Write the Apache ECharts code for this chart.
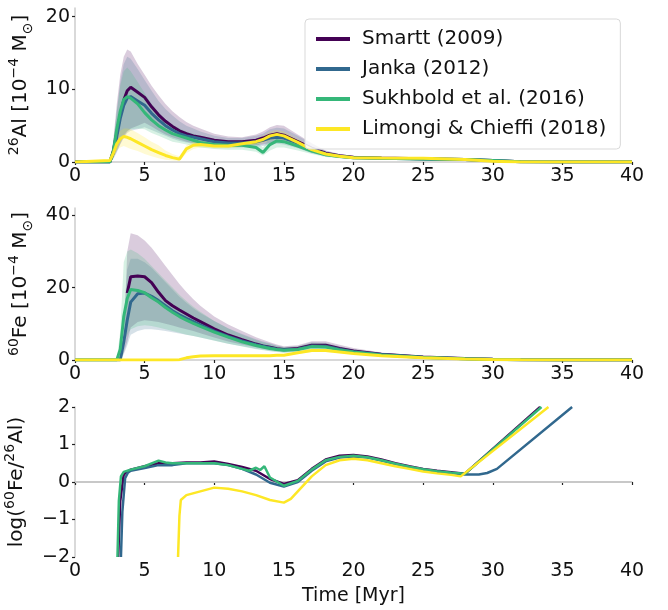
<!DOCTYPE html>
<html>
<head>
<meta charset="utf-8">
<script src="https://cdn.jsdelivr.net/npm/echarts@6/dist/echarts.min.js"></script>
<style>
  html, body { margin: 0; padding: 0; background: #fff; }
  #chart { width: 668px; height: 610px; }
</style>
</head>
<body>
<div id="chart"></div>
<script>
// time grid shared by the 26Al and 60Fe panels [Myr]
const T = [0, 2.5, 2.75, 3, 3.25, 3.5, 3.75, 4, 4.5, 5, 5.5, 6, 6.5, 7, 7.5, 8, 8.5, 9, 10, 11, 12, 13, 13.5, 14, 14.5, 15, 16, 17, 18, 19, 20, 22, 25, 28, 30, 32, 35, 40];

const names = ['Smartt (2009)', 'Janka (2012)', 'Sukhbold et al. (2016)', 'Limongi & Chieffi (2018)'];
const colors = ['#440154', '#31688e', '#35b779', '#fde725'];

// 26Al [1e-4 Msun]
const alSmartt = [0, 0, 1.5, 4, 6.5, 8.5, 9.8, 10.3, 9.6, 8.9, 7.6, 6.5, 5.6, 4.9, 4.3, 3.9, 3.6, 3.4, 3.0, 2.8, 2.8, 3.0, 3.3, 3.7, 3.9, 3.7, 2.8, 1.9, 1.2, 0.85, 0.65, 0.55, 0.45, 0.35, 0.2, 0.05, 0, 0];
const alJanka = [0, 0, 1.2, 3.5, 6, 7.8, 8.8, 9.0, 8.4, 7.8, 6.7, 5.8, 5.0, 4.4, 3.9, 3.6, 3.4, 3.2, 2.8, 2.6, 2.6, 2.8, 3.0, 3.3, 3.4, 3.3, 2.6, 1.8, 1.1, 0.8, 0.6, 0.5, 0.42, 0.33, 0.2, 0.05, 0, 0];
const alSukhbold = [0, 0, 1.5, 4.5, 7, 8.6, 9.0, 8.8, 8.0, 6.8, 5.8, 5.0, 4.4, 3.9, 3.6, 3.3, 3.0, 2.7, 2.4, 2.3, 2.3, 2.0, 1.3, 2.4, 2.9, 2.8, 2.2, 1.5, 1.0, 0.75, 0.6, 0.5, 0.42, 0.33, 0.2, 0.05, 0, 0];
const alLimongi = [0, 0.2, 1.2, 2.5, 3.2, 3.5, 3.4, 3.2, 2.7, 2.2, 1.7, 1.3, 0.9, 0.6, 0.4, 1.8, 2.3, 2.4, 2.2, 2.2, 2.5, 2.8, 3.1, 3.6, 3.8, 3.6, 2.7, 1.7, 1.1, 0.8, 0.6, 0.55, 0.5, 0.35, 0.1, 0, 0, 0];

const alSmarttLo = [0, 0, 0.5, 1.5, 2.5, 3.5, 4.2, 4.6, 5.0, 5.4, 4.9, 4.3, 3.8, 3.4, 3.1, 2.8, 2.6, 2.5, 2.2, 2.1, 2.1, 2.3, 2.4, 2.6, 2.8, 2.7, 2.0, 1.3, 0.8, 0.6, 0.45, 0.4, 0.32, 0.25, 0.1, 0, 0, 0];
const alSmarttHi = [0, 0, 3, 8, 12, 14.5, 15.5, 15.2, 13.5, 12.0, 10.5, 9.2, 8.0, 7.0, 6.2, 5.5, 5.0, 4.6, 3.9, 3.5, 3.4, 3.8, 4.2, 4.8, 5.1, 5.0, 3.8, 2.6, 1.6, 1.1, 0.85, 0.7, 0.6, 0.5, 0.3, 0.1, 0, 0];
const alJankaLo = [0, 0, 0.4, 1.3, 2.4, 3.3, 4.0, 4.3, 4.5, 4.8, 4.4, 4.0, 3.6, 3.2, 2.9, 2.7, 2.5, 2.4, 2.1, 2.0, 2.0, 2.1, 2.2, 2.4, 2.5, 2.4, 1.9, 1.2, 0.8, 0.55, 0.45, 0.38, 0.3, 0.24, 0.1, 0, 0, 0];
const alJankaHi = [0, 0, 2.5, 7, 11, 13.5, 14.5, 14.2, 12.8, 11.3, 9.8, 8.4, 7.3, 6.4, 5.6, 5.0, 4.6, 4.2, 3.6, 3.3, 3.3, 3.6, 3.9, 4.5, 4.7, 4.6, 3.6, 2.5, 1.5, 1.05, 0.8, 0.65, 0.55, 0.45, 0.3, 0.1, 0, 0];
const alSukhboldLo = [0, 0, 0.5, 1.8, 3.0, 3.8, 4.3, 4.5, 4.6, 4.5, 4.0, 3.6, 3.2, 2.8, 2.6, 2.4, 2.2, 2.0, 1.8, 1.7, 1.7, 1.4, 0.9, 1.6, 2.0, 2.0, 1.6, 1.1, 0.7, 0.5, 0.42, 0.36, 0.3, 0.24, 0.1, 0, 0, 0];
const alSukhboldHi = [0, 0, 2.5, 7, 10.5, 12.5, 13.0, 12.5, 11.0, 9.5, 8.0, 6.8, 5.8, 5.1, 4.6, 4.2, 3.9, 3.6, 3.2, 3.0, 3.0, 2.8, 2.0, 3.4, 4.0, 3.8, 3.0, 2.0, 1.3, 0.95, 0.75, 0.62, 0.52, 0.42, 0.28, 0.1, 0, 0];
const alLimongiLo = [0, 0, 0.6, 1.5, 2.0, 2.2, 2.0, 1.8, 1.5, 1.1, 0.8, 0.5, 0.3, 0.2, 0.15, 1.2, 1.8, 2.0, 1.9, 1.9, 2.1, 2.4, 2.6, 3.0, 3.2, 3.0, 2.2, 1.4, 0.9, 0.65, 0.5, 0.45, 0.42, 0.3, 0.08, 0, 0, 0];
const alLimongiHi = [0, 0.3, 1.8, 3.4, 4.3, 4.6, 4.6, 4.5, 4.0, 3.4, 2.8, 2.3, 1.6, 1.1, 0.8, 2.3, 2.8, 2.9, 2.6, 2.6, 2.9, 3.2, 3.6, 4.2, 4.4, 4.2, 3.2, 2.0, 1.3, 0.95, 0.72, 0.65, 0.58, 0.42, 0.15, 0.02, 0, 0];

// 60Fe [1e-4 Msun]
const feSmartt = [null, null, null, null, null, null, 18.5, 23, 23.2, 23, 21.4, 18.7, 16.4, 15, 13.8, 12.7, 11.6, 10.6, 8.6, 6.9, 5.6, 4.4, 3.9, 3.5, 3.1, 2.9, 3.2, 4.1, 4.1, 3.2, 2.5, 1.6, 0.8, 0.4, 0.2, 0.05, 0.02, 0];
const feJanka = [0, 0, 0, 0, 0, 5, 11, 16, 18.3, 18.5, 17.6, 16.4, 15, 13.6, 12.5, 11.5, 10.6, 9.7, 8.0, 6.5, 5.3, 4.2, 3.8, 3.4, 3.0, 2.8, 3.0, 3.9, 3.8, 3.0, 2.3, 1.5, 0.75, 0.35, 0.18, 0.05, 0.02, 0];
const feSukhbold = [0, 0, 0, 0, 3, 12, 17, 19.5, 19.2, 18.6, 17.2, 16, 14.5, 13.2, 12, 11, 10.1, 9.3, 7.7, 6.3, 5.0, 4.0, 3.6, 3.2, 2.9, 2.7, 2.9, 3.7, 3.6, 2.8, 2.2, 1.4, 0.7, 0.33, 0.16, 0.04, 0.02, 0];
const feLimongi = [0, 0, 0, 0, 0, 0, 0, 0, 0, 0, 0, 0, 0, 0, 0.1, 0.6, 0.9, 1.1, 1.2, 1.2, 1.2, 1.2, 1.2, 1.2, 1.3, 1.3, 2.0, 2.6, 2.6, 2.2, 1.8, 1.2, 0.6, 0.3, 0.15, 0.05, 0, 0];

const feSmarttLo = [0, 0, 0, 0, 0, 2, 5, 9, 10.5, 11, 10.8, 10.5, 10, 9.5, 9, 8.5, 8, 7.4, 6.2, 5.1, 4.3, 3.5, 3.1, 2.8, 2.6, 2.4, 2.7, 3.4, 3.4, 2.6, 2, 1.2, 0.6, 0.3, 0.12, 0.03, 0, 0];
const feSmarttHi = [0, 0, 0, 0, 0, 5, 30, 35, 34.5, 33, 31, 28.5, 26, 23.5, 21, 18.8, 16.8, 15, 12, 9.8, 8, 6.3, 5.6, 4.9, 4.3, 3.8, 4.1, 5.2, 5.2, 4.2, 3.3, 2.1, 1.1, 0.55, 0.3, 0.08, 0.03, 0];
const feJankaLo = [0, 0, 0, 0, 0, 1.5, 4, 7, 8, 8.5, 8.5, 8.3, 8, 7.7, 7.3, 7, 6.6, 6.2, 5.4, 4.5, 3.8, 3.1, 2.8, 2.5, 2.3, 2.1, 2.3, 3.0, 3.0, 2.3, 1.8, 1.1, 0.55, 0.25, 0.12, 0.03, 0, 0];
const feJankaHi = [0, 0, 0, 0, 0, 10, 25, 28, 28, 27, 25.5, 23.5, 21.5, 19.5, 17.5, 15.8, 14.3, 13, 10.8, 8.8, 7.2, 5.7, 5.1, 4.6, 4.0, 3.6, 3.8, 4.9, 4.8, 3.8, 3.0, 1.9, 0.95, 0.45, 0.24, 0.07, 0.03, 0];
const feSukhboldLo = [0, 0, 0, 0, 1, 5, 7, 8.5, 9.3, 9.6, 9.4, 9.0, 8.5, 8.0, 7.5, 7.0, 6.6, 6.2, 5.3, 4.5, 3.7, 3.0, 2.7, 2.4, 2.2, 2.0, 2.2, 2.9, 2.8, 2.2, 1.7, 1.1, 0.55, 0.25, 0.12, 0.03, 0, 0];
const feSukhboldHi = [0, 0, 0, 0, 8, 27, 30, 30.5, 29.5, 28, 26, 24, 22, 20, 18, 16.3, 14.7, 13.3, 10.8, 8.7, 7, 5.5, 4.9, 4.4, 3.9, 3.5, 3.7, 4.6, 4.5, 3.6, 2.8, 1.8, 0.9, 0.43, 0.22, 0.06, 0.03, 0];
const feLimongiLo = [0, 0, 0, 0, 0, 0, 0, 0, 0, 0, 0, 0, 0, 0, 0.05, 0.4, 0.7, 0.9, 1.0, 1.0, 1.0, 1.0, 1.0, 1.0, 1.1, 1.1, 1.7, 2.2, 2.2, 1.9, 1.5, 1.0, 0.5, 0.25, 0.12, 0.04, 0, 0];
const feLimongiHi = [0, 0, 0, 0, 0, 0, 0, 0, 0, 0, 0, 0, 0, 0, 0.15, 0.8, 1.1, 1.3, 1.4, 1.4, 1.4, 1.4, 1.4, 1.4, 1.5, 1.5, 2.3, 3.0, 3.0, 2.5, 2.1, 1.4, 0.7, 0.35, 0.18, 0.06, 0, 0];

// log(60Fe/26Al), each model on its own time points
const tRatioSmartt = [3.1, 3.25, 3.5, 3.75, 4, 5, 6, 7, 8, 9, 10, 11, 12, 13, 14, 15, 16, 17, 18, 19, 20, 21, 22, 23, 24, 25, 26, 27, 28, 33.4];
const ratioSmartt = [-2, -0.5, 0.2, 0.28, 0.33, 0.42, 0.5, 0.5, 0.52, 0.52, 0.55, 0.48, 0.4, 0.3, 0.08, -0.05, 0.05, 0.35, 0.6, 0.7, 0.72, 0.68, 0.6, 0.5, 0.42, 0.35, 0.3, 0.26, 0.22, 2];
const tRatioJanka = [3.3, 3.4, 3.6, 3.8, 4, 5, 6, 7, 8, 9, 10, 11, 12, 13, 14, 15, 16, 17, 18, 19, 20, 21, 22, 23, 24, 25, 26, 27, 28, 29, 29.6, 30.3, 35.7];
const ratioJanka = [-2, -0.8, 0.1, 0.25, 0.3, 0.37, 0.45, 0.45, 0.5, 0.5, 0.5, 0.45, 0.35, 0.2, -0.02, -0.12, 0.0, 0.3, 0.55, 0.65, 0.68, 0.65, 0.57, 0.48, 0.4, 0.33, 0.28, 0.24, 0.2, 0.2, 0.24, 0.35, 2];
const tRatioSukhbold = [3.05, 3.15, 3.3, 3.5, 4, 5, 6, 6.5, 7, 8, 9, 10, 11, 12, 12.5, 13, 13.3, 13.6, 14, 15, 16, 17, 18, 19, 20, 21, 22, 23, 24, 25, 26, 27, 28, 33.5];
const ratioSukhbold = [-2, -0.5, 0.15, 0.27, 0.33, 0.42, 0.57, 0.52, 0.5, 0.5, 0.5, 0.5, 0.45, 0.35, 0.3, 0.38, 0.32, 0.42, 0.12, -0.1, 0.03, 0.33, 0.58, 0.67, 0.7, 0.66, 0.58, 0.49, 0.41, 0.34, 0.29, 0.25, 0.22, 2];
const tRatioLimongi = [7.4, 7.5, 7.6, 8, 9, 10, 11, 12, 13, 14, 15, 15.5, 16, 17, 18, 19, 20, 21, 22, 23, 24, 25, 26, 27, 27.7, 34];
const ratioLimongi = [-2, -0.9, -0.48, -0.35, -0.25, -0.15, -0.18, -0.25, -0.35, -0.48, -0.55, -0.45, -0.25, 0.15, 0.45, 0.58, 0.62, 0.58, 0.5, 0.42, 0.35, 0.28, 0.23, 0.19, 0.15, 2];

const font = 'DejaVu Sans';
const fs = 19;
const pairs = (ts, vs) => ts.map((t, i) => [t, vs[i]]);

function band(idx, lo, hi, color) {
  return {
    type: 'custom',
    xAxisIndex: idx,
    yAxisIndex: idx,
    silent: true,
    data: T.map((t, i) => [t, lo[i], hi[i]]),
    encode: { x: 0, y: [1, 2] },
    renderItem: (params, api) => {
      if (params.dataIndex !== 0) return null;
      const top = T.map((t, i) => api.coord([t, hi[i]]));
      const bot = T.map((t, i) => api.coord([t, lo[i]])).reverse();
      return {
        type: 'polygon',
        shape: { points: top.concat(bot) },
        style: { fill: color, opacity: 0.2 }
      };
    }
  };
}

function line(idx, name, color, data, width) {
  return {
    type: 'line',
    name,
    xAxisIndex: idx,
    yAxisIndex: idx,
    data,
    showSymbol: false,
    lineStyle: { color, width },
    itemStyle: { color },
    z: 3
  };
}

function xAxis(idx, extra) {
  return Object.assign({
    type: 'value',
    gridIndex: idx,
    min: 0,
    max: 40,
    interval: 5,
    axisLine: { lineStyle: { color: '#cccccc', width: 1.5 } },
    axisTick: { length: 3, lineStyle: { color: '#222', width: 1.2 } },
    axisLabel: { fontFamily: font, fontSize: fs, color: '#111', margin: 5 },
    splitLine: { show: false }
  }, extra || {});
}

const nameStyle = {
  fontFamily: font,
  fontSize: 20,
  color: '#111',
  lineHeight: 28,
  rich: {
    sup: { fontFamily: font, fontSize: 14, lineHeight: 14, verticalAlign: 'top', color: '#111' },
    sub: { fontFamily: font, fontSize: 14, lineHeight: 14, verticalAlign: 'bottom', color: '#111' }
  }
};

function yAxis(idx, extra) {
  return Object.assign({
    type: 'value',
    gridIndex: idx,
    nameLocation: 'middle',
    nameRotate: 90,
    nameGap: 29,
    nameTextStyle: nameStyle,
    axisLine: { show: true, lineStyle: { color: '#cccccc', width: 1.5 } },
    axisTick: { show: true, length: 3, lineStyle: { color: '#222', width: 1.2 } },
    axisLabel: { fontFamily: font, fontSize: fs, color: '#111', margin: 5 },
    splitLine: { show: false }
  }, extra);
}

const chart = echarts.init(document.getElementById('chart'), null, { renderer: 'canvas' });

const series = [];
const alBands = [[alSmarttLo, alSmarttHi], [alJankaLo, alJankaHi], [alSukhboldLo, alSukhboldHi], [alLimongiLo, alLimongiHi]];
const feBands = [[feSmarttLo, feSmarttHi], [feJankaLo, feJankaHi], [feSukhboldLo, feSukhboldHi], [feLimongiLo, feLimongiHi]];
alBands.forEach((b, i) => series.push(band(0, b[0], b[1], colors[i])));
feBands.forEach((b, i) => series.push(band(1, b[0], b[1], colors[i])));

const alLines = [alSmartt, alJanka, alSukhbold, alLimongi];
const feLines = [feSmartt, feJanka, feSukhbold, feLimongi];
alLines.forEach((v, i) => series.push(line(0, names[i], colors[i], pairs(T, v), 3)));
feLines.forEach((v, i) => series.push(line(1, names[i], colors[i], pairs(T, v), 3)));

const ratioT = [tRatioSmartt, tRatioJanka, tRatioSukhbold, tRatioLimongi];
const ratioV = [ratioSmartt, ratioJanka, ratioSukhbold, ratioLimongi];
ratioV.forEach((v, i) => series.push(line(2, names[i], colors[i], pairs(ratioT[i], v), 2.5)));

// zero line in the ratio panel
series[series.length - 4].markLine = {
  silent: true,
  symbol: 'none',
  label: { show: false },
  lineStyle: { color: '#c8c8c8', width: 2, type: 'solid' },
  data: [{ yAxis: 0 }],
  z: 1
};

const option = {
  animation: false,
  backgroundColor: '#fff',
  grid: [
    { left: 75, top: 8, width: 557, height: 154, containLabel: false, outerBoundsMode: 'none' },
    { left: 75, top: 208, width: 557, height: 152, containLabel: false, outerBoundsMode: 'none' },
    { left: 75, top: 407, width: 557, height: 150, containLabel: false, outerBoundsMode: 'none' }
  ],
  legend: {
    data: names,
    orient: 'vertical',
    left: 305,
    top: 19,
    padding: [9, 14, 9, 11],
    itemGap: 8,
    itemWidth: 34,
    itemHeight: 4,
    icon: 'rect',
    backgroundColor: 'rgba(255,255,255,0.85)',
    borderColor: '#d9d9d9',
    borderWidth: 1,
    borderRadius: 4,
    textStyle: { fontFamily: font, fontSize: 20, color: '#111', lineHeight: 22, padding: [0, 0, 0, 7] }
  },
  xAxis: [
    xAxis(0),
    xAxis(1),
    xAxis(2, {
      name: 'Time [Myr]',
      nameLocation: 'middle',
      nameGap: 30,
      nameTextStyle: { fontFamily: font, fontSize: fs, color: '#111' }
    })
  ],
  yAxis: [
    yAxis(0, {
      min: 0, max: 21.2,
      name: '{sup|26}Al [10{sup|−4} M{sub|⊙}]',
      axisTick: { show: true, length: 3, customValues: [0, 10, 20], lineStyle: { color: '#222', width: 1.2 } },
      axisLabel: { fontFamily: font, fontSize: fs, color: '#111', margin: 5, customValues: [0, 10, 20] }
    }),
    yAxis(1, {
      min: 0, max: 42,
      name: '{sup|60}Fe [10{sup|−4} M{sub|⊙}]',
      axisTick: { show: true, length: 3, customValues: [0, 20, 40], lineStyle: { color: '#222', width: 1.2 } },
      axisLabel: { fontFamily: font, fontSize: fs, color: '#111', margin: 5, customValues: [0, 20, 40] }
    }),
    yAxis(2, {
      min: -2, max: 2, interval: 1,
      name: 'log({sup|60}Fe/{sup|26}Al)',
      axisLabel: {
        fontFamily: font, fontSize: fs, color: '#111', margin: 5,
        formatter: v => (v < 0 ? '−' + (-v) : String(v))
      }
    })
  ],
  series
};

chart.setOption(option);
</script>
</body>
</html>
